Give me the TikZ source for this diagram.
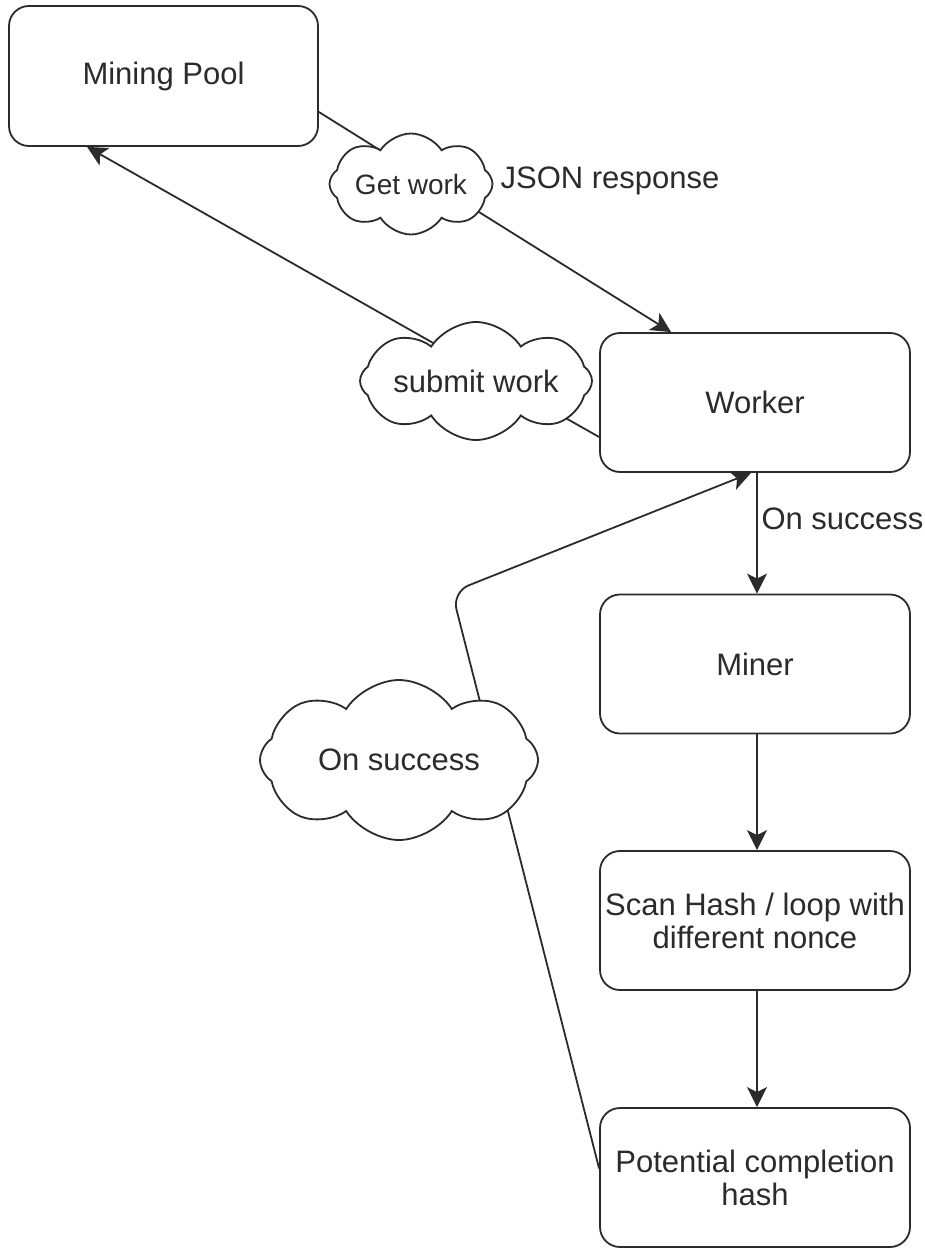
\documentclass[tikz,border=0pt]{standalone}
\usepackage{fontspec}
\setmainfont{Liberation Sans}
\usetikzlibrary{shapes.symbols,arrows.meta,calc}
\definecolor{ink}{HTML}{2B2B2B}
\begin{document}
\begin{tikzpicture}[x=1pt,y=-1pt,
  every node/.style={font=\fontsize{31}{33}\selectfont, text=ink},
  stepbox/.style={draw=ink, line width=1.8pt, rounded corners=20pt, fill=white,
    minimum width=310pt, minimum height=139pt, align=center, inner sep=2pt},
  bubble/.style={cloud, cloud puffs=8, cloud puff arc=115, cloud ignores aspect,
    draw=ink, line width=1.8pt, fill=white, inner sep=0pt, align=center},
  link/.style={draw=ink, line width=1.8pt},
  arr/.style={link, -{Stealth[length=20pt,width=20pt,inset=5pt]}}]
\useasboundingbox (0,0) rectangle (925,1249);

% process boxes
\node[stepbox, minimum width=309pt, minimum height=140pt] (pool) at (163.5,76) {Mining Pool};
\node[stepbox] (worker) at (755,402.5) {Worker};
\node[stepbox] (miner) at (755,664) {Miner};
\node[stepbox] (scan) at (755,920.5) {Scan Hash / loop with\\different nonce};
\node[stepbox] (pot) at (755,1177.5) {Potential completion\\hash};

% connectors
\draw[arr] ($(pool.east)+(0,36)$) -- ($(worker.north west)+(72,0)$);
\draw[arr] ($(worker.west)+(0,34.5)$) -- ($(pool.south west)+(79,0)$);
\draw[arr] ($(worker.south)+(2,0)$) -- ($(miner.north)+(2,0)$);
\draw[arr] ($(miner.south)+(2,0)$) -- ($(scan.north)+(2,0)$);
\draw[arr] ($(scan.south)+(2,0)$) -- ($(pot.north)+(2,0)$);
\coordinate (bend) at (452,592);
\draw[arr, rounded corners=18pt] ($(pot.west)+(0,-9)$) -- (bend) -- ($(worker.south)+(-4,0)$);

% labels on the connectors
\node[bubble, font=\fontsize{28}{30}\selectfont, minimum width=163pt, minimum height=101pt] (getwork) at (411,184) {Get work};
\node[bubble, minimum width=232pt, minimum height=118pt] (submit) at (476,381) {submit work};
\node[bubble, minimum width=278pt, minimum height=160pt] (loopok) at (399,760) {On success};
\node[anchor=center] (json) at (610,181) {JSON response};
\node[anchor=west] (ok) at (758,519) {On success};
\end{tikzpicture}
\end{document}
